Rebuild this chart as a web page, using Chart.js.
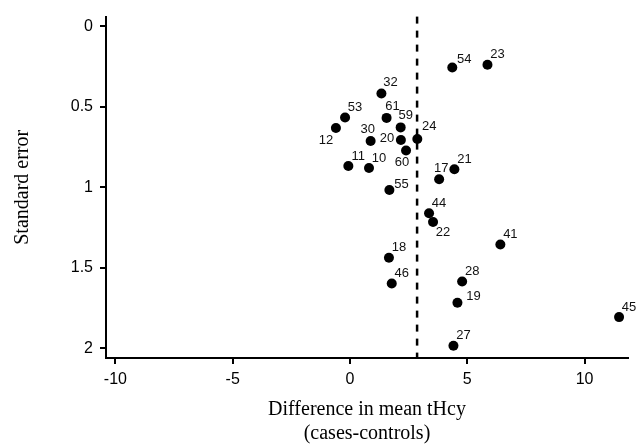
<!DOCTYPE html>
<html>
<head>
<meta charset="utf-8">
<script src="https://cdn.jsdelivr.net/npm/chart.js@4.4.1/dist/chart.umd.min.js"></script>
<style>
    html, body { margin: 0; padding: 0; background: #fff; }
    #wrap { width: 636px; height: 446px; }
</style>
</head>
<body>
<div id="wrap"><canvas id="funnel-chart" width="636" height="446"></canvas></div>
<script>
// Study ids with their difference in mean tHcy and standard error
const studyIds = [10, 11, 12, 17, 18, 19, 20, 21, 22, 23, 24, 27, 28, 30, 32, 41, 44, 45, 46, 53, 54, 55, 59, 60, 61];
const meanDiff = [0.81, -0.07, -0.60, 3.80, 1.66, 4.58, 2.17, 4.45, 3.54, 5.86, 2.87, 4.41, 4.78, 0.88, 1.34, 6.41, 3.37, 11.47, 1.78, -0.21, 4.36, 1.68, 2.16, 2.39, 1.56];
const stdError = [0.880, 0.868, 0.632, 0.950, 1.437, 1.717, 0.706, 0.888, 1.216, 0.239, 0.700, 1.984, 1.585, 0.712, 0.418, 1.355, 1.161, 1.806, 1.597, 0.567, 0.256, 1.017, 0.628, 0.772, 0.569];
const pooledDiff = 2.86;
const xTicks = [-10, -5, 0, 5, 10];
const yTicks = [0, 0.5, 1, 1.5, 2];

// where each id label sits relative to its dot (px); default is up-right
const defaultOffset = [10, -10];
const labelOffsets = {
    12: [-10, 12], 17: [2, -11], 19: [16, -6], 20: [-14, -2], 22: [10, 10],
    24: [12, -13], 30: [-3, -11], 32: [9, -11], 54: [12, -8], 55: [12, -6],
    59: [5, -12], 60: [-4, 12], 61: [6, -11]
};

const sansFont = 'Liberation Sans, Arial, sans-serif';
const serifFont = 'Liberation Serif, Times New Roman, serif';

const points = studyIds.map((id, i) => ({ x: meanDiff[i], y: stdError[i], id: id }));

/**
 * Dashed reference line at the pooled difference + id labels
 */
const funnelExtras = {
    id: 'funnelExtras',
    afterDatasetsDraw(chart) {
        const { ctx, chartArea, scales } = chart;
        const xPix = scales.x.getPixelForValue(pooledDiff);

        ctx.save();
        ctx.strokeStyle = '#000';
        ctx.lineWidth = 2.5;
        ctx.setLineDash([7, 7]);
        ctx.beginPath();
        ctx.moveTo(xPix, chartArea.top);
        ctx.lineTo(xPix, chartArea.bottom);
        ctx.stroke();
        ctx.setLineDash([]);

        const meta = chart.getDatasetMeta(0);
        ctx.fillStyle = '#111';
        ctx.font = '13px ' + sansFont;
        ctx.textAlign = 'center';
        ctx.textBaseline = 'middle';
        meta.data.forEach((el, i) => {
            const id = points[i].id;
            const off = labelOffsets[id] || defaultOffset;
            ctx.fillText(String(id), el.x + off[0], el.y + off[1]);
        });
        ctx.restore();
    }
};

const axisGrid = {
    display: true,
    drawOnChartArea: false,
    drawTicks: true,
    tickLength: 6,
    color: '#000',
    lineWidth: 2
};

new Chart(document.getElementById('funnel-chart'), {
    type: 'scatter',
    data: {
        datasets: [{
            data: points,
            backgroundColor: '#000',
            borderColor: '#000',
            borderWidth: 0,
            pointRadius: 5,
            pointHoverRadius: 5,
            clip: false
        }]
    },
    options: {
        responsive: false,
        devicePixelRatio: 1,
        animation: false,
        events: [],
        layout: { padding: { top: 13, right: 8, left: 0, bottom: 0 } },
        plugins: {
            legend: { display: false },
            tooltip: { enabled: false }
        },
        scales: {
            x: {
                type: 'linear',
                min: -10.4,
                max: 11.85,
                afterBuildTicks: function(scale) {
                    scale.ticks = xTicks.map(v => ({ value: v }));
                },
                afterFit: function(scale) {
                    scale.height = 88;
                },
                grid: axisGrid,
                border: { display: true, color: '#000', width: 2 },
                ticks: {
                    color: '#000',
                    font: { family: sansFont, size: 16 },
                    padding: 6,
                    maxRotation: 0,
                    autoSkip: false,
                    callback: v => String(v)
                },
                title: {
                    display: true,
                    text: ['Difference in mean tHcy', '(cases-controls)'],
                    color: '#000',
                    font: { family: serifFont, size: 20, lineHeight: 1.2 },
                    padding: { top: 0, bottom: 0 }
                }
            },
            y: {
                type: 'linear',
                reverse: true,
                min: -0.06,
                max: 2.06,
                afterBuildTicks: function(scale) {
                    scale.ticks = yTicks.map(v => ({ value: v }));
                },
                afterFit: function(scale) {
                    scale.width = 106;
                },
                grid: axisGrid,
                border: { display: true, color: '#000', width: 2 },
                ticks: {
                    color: '#000',
                    font: { family: sansFont, size: 16 },
                    padding: 7,
                    autoSkip: false,
                    callback: v => String(v)
                },
                title: {
                    display: true,
                    text: 'Standard error',
                    color: '#000',
                    font: { family: serifFont, size: 20, lineHeight: 1.2 },
                    padding: { top: 11, bottom: 0 }
                }
            }
        }
    },
    plugins: [funnelExtras]
});
</script>
</body>
</html>
